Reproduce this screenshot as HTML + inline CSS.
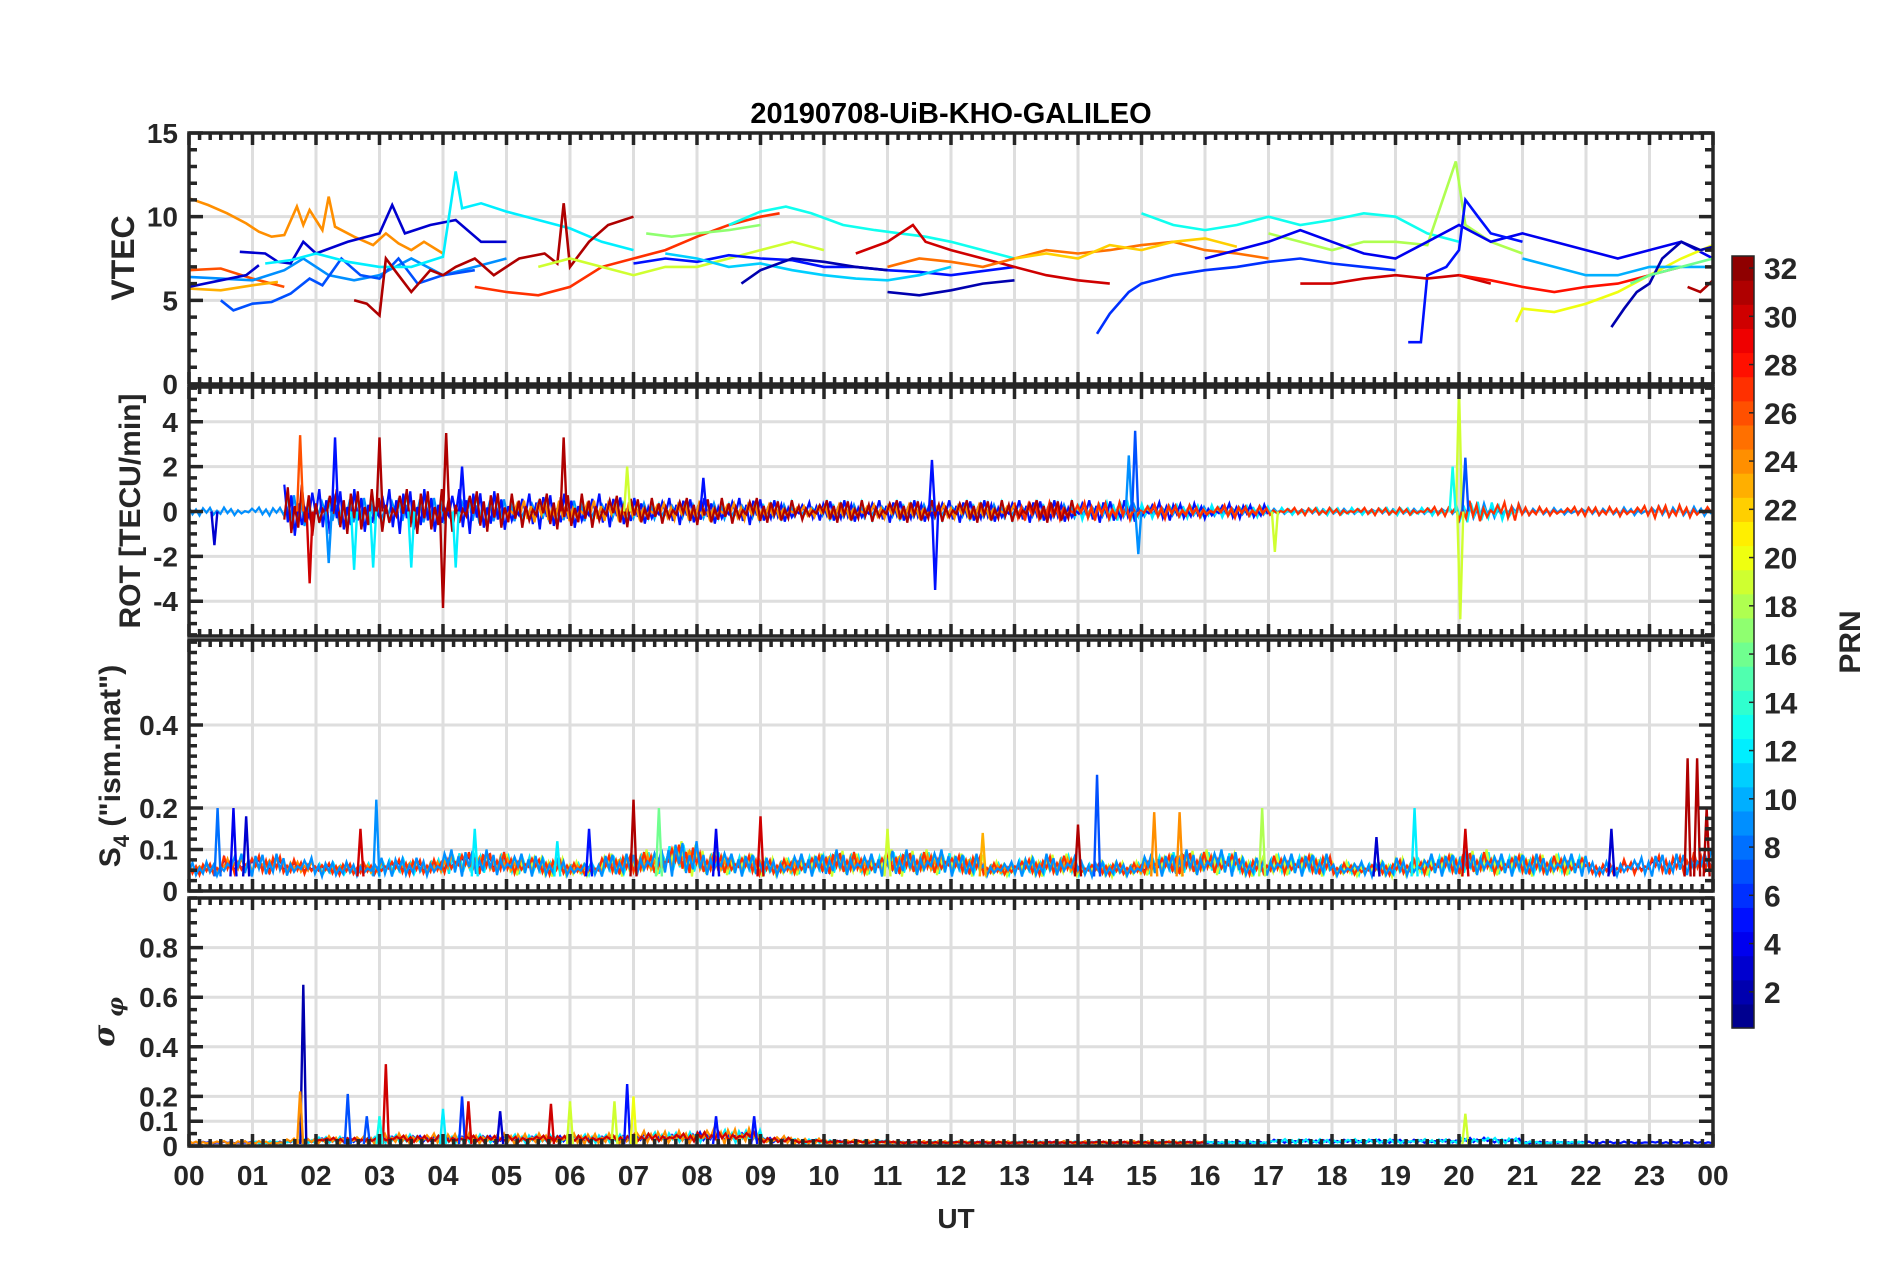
<!DOCTYPE html>
<html><head><meta charset="utf-8"><style>
html,body{margin:0;padding:0;background:#fff;}
svg{display:block;}
text{font-family:"Liberation Sans",Arial,sans-serif;font-weight:bold;fill:#262626;}
</style></head>
<body>
<svg id="fig" width="1902" height="1272" viewBox="0 0 1902 1272" xmlns="http://www.w3.org/2000/svg">
<rect width="1902" height="1272" fill="#fff"/>
<text x="951" y="123" font-size="29" text-anchor="middle" style="fill:#000">20190708-UiB-KHO-GALILEO</text>
<g id="grids"></g><g id="data"></g><g id="axes"></g>
<text x="956" y="1228" font-size="28" text-anchor="middle">UT</text>
<text transform="translate(134,258) rotate(-90)" font-size="32" text-anchor="middle">VTEC</text>
<text transform="translate(140,511) rotate(-90)" font-size="30" text-anchor="middle">ROT [TECU/min]</text>
<text transform="translate(120,766) rotate(-90)" font-size="30" text-anchor="middle">S<tspan font-size="22" dy="9">4</tspan><tspan dy="-9"> ("ism.mat")</tspan></text>
<text transform="translate(114,1022) rotate(-90)" font-size="30" text-anchor="middle" font-style="italic" font-weight="normal" style="font-family:'DejaVu Serif',serif">σ<tspan font-size="22" dy="9"> φ</tspan></text>
<g id="cbar"></g>
<text transform="translate(1860,642) rotate(-90)" font-size="30" text-anchor="middle">PRN</text>
</svg>
<script>
// ---------------- data ----------------
const hourLabels = ["00","01","02","03","04","05","06","07","08","09","10","11","12","13","14","15","16","17","18","19","20","21","22","23","00"];
const vtecTicks = [0,5,10,15];
const rotTicks = [-4,-2,0,2,4];
const s4Ticks = [0,0.1,0.2,0.4];
const sigTicks = [0,0.1,0.2,0.4,0.6,0.8];
const cbarTicks = [2,4,6,8,10,12,14,16,18,20,22,24,26,28,30,32];

const vtecPrns = [24,26,23,9,7,3,3,12,31,27,19,17,13,5,11,2,2,30,25,22,6,13,18,4,5,30,28,20,10,2,16,31];
const vtecSeries = [
 [[0,11.1],[0.3,10.7],[0.6,10.2],[0.9,9.6],[1.1,9.1],[1.3,8.8],[1.5,8.9],[1.7,10.6],[1.8,9.5],[1.9,10.4],[2.1,9.2],[2.2,11.2],[2.3,9.4],[2.6,8.8],[2.9,8.3],[3.1,9],[3.3,8.4],[3.5,8],[3.7,8.5],[4,7.8]],
 [[0,6.8],[0.5,6.9],[1.0,6.3],[1.5,5.8]],
 [[0,5.7],[0.5,5.6],[1,5.9],[1.4,6.1]],
 [[0,6.4],[0.5,6.3],[1,6.2],[1.5,6.8],[1.8,7.5],[2.2,6.5],[2.6,6.2],[3,6.5],[3.5,7.5],[4,6.5],[4.5,7],[5,7.5]],
 [[0.5,5],[0.7,4.4],[1,4.8],[1.3,4.9],[1.6,5.4],[1.9,6.3],[2.1,5.9],[2.4,7.5],[2.7,6.5],[3,6.3],[3.3,7.5],[3.6,6],[4,6.5],[4.5,6.8]],
 [[0,5.8],[0.5,6.2],[0.9,6.5],[1.1,7.1]],
 [[0.8,7.9],[1.2,7.8],[1.4,7.3],[1.6,7.2],[1.8,8.5],[2,7.8],[2.5,8.5],[3,9],[3.2,10.7],[3.4,9],[3.8,9.5],[4.2,9.8],[4.6,8.5],[5,8.5]],
 [[1.2,7.2],[1.6,7.4],[2,7.8],[2.5,7.3],[3,7],[3.5,7],[4,7.6],[4.2,12.7],[4.3,10.5],[4.6,10.8],[5,10.3],[5.5,9.8],[6,9.3],[6.5,8.5],[7,8]],
 [[2.6,5],[2.8,4.8],[3.0,4.1],[3.1,7.5],[3.3,6.5],[3.5,5.5],[3.8,6.8],[4.0,6.5],[4.2,7],[4.5,7.5],[4.8,6.5],[5.2,7.5],[5.6,7.8],[5.8,7.2],[5.9,10.8],[6,7],[6.3,8.5],[6.6,9.5],[7,10]],
 [[4.5,5.8],[5,5.5],[5.5,5.3],[6,5.8],[6.5,7],[7,7.5],[7.5,8],[8,8.8],[8.5,9.5],[9,10],[9.3,10.2]],
 [[5.5,7],[6,7.5],[6.5,7],[7,6.5],[7.5,7],[8,7],[8.5,7.5],[9,8],[9.5,8.5],[10,8]],
 [[7.2,9],[7.6,8.8],[8,9],[8.5,9.2],[9,9.5]],
 [[8.5,9.5],[9,10.3],[9.4,10.6],[9.8,10.2],[10.3,9.5],[10.8,9.2],[11.2,9],[11.6,8.8],[12,8.5],[12.5,8],[13,7.5]],
 [[7,7.2],[7.5,7.5],[8,7.3],[8.5,7.7],[9,7.5],[9.5,7.4],[10,7],[10.5,7],[11,6.8],[11.5,6.7],[12,6.5],[13,7]],
 [[7.5,7.8],[8,7.5],[8.5,7],[9,7.2],[9.5,6.8],[10,6.5],[10.5,6.3],[11,6.2],[11.5,6.5],[12,7]],
 [[8.7,6],[9,6.8],[9.5,7.5],[10,7.3],[10.5,7],[11,6.8]],
 [[11,5.5],[11.5,5.3],[12,5.6],[12.5,6],[13,6.2]],
 [[10.5,7.8],[11,8.5],[11.4,9.5],[11.6,8.5],[12,8],[12.5,7.5],[13,7],[13.5,6.5],[14,6.2],[14.5,6]],
 [[11,7],[11.5,7.5],[12,7.3],[12.5,7],[13,7.5],[13.5,8],[14,7.8],[14.5,8],[15,8.3],[15.5,8.5],[16,8],[16.5,7.8],[17,7.5]],
 [[13,7.5],[13.5,7.8],[14,7.5],[14.5,8.3],[15,8],[15.5,8.5],[16,8.7],[16.5,8.2]],
 [[14.3,3],[14.5,4.2],[14.8,5.5],[15,6],[15.5,6.5],[16,6.8],[16.5,7],[17,7.3],[17.5,7.5],[18,7.2],[18.5,7],[19,6.8]],
 [[15,10.2],[15.5,9.5],[16,9.2],[16.5,9.5],[17,10],[17.5,9.5],[18,9.8],[18.5,10.2],[19,10],[19.5,9],[20,8.5]],
 [[17,9],[17.5,8.5],[18,8],[18.5,8.5],[19,8.5],[19.5,8.3],[19.95,13.3],[20.1,9.5],[20.5,8.5],[21,7.8]],
 [[16,7.5],[16.5,8],[17,8.5],[17.5,9.2],[18,8.5],[18.5,7.8],[19,7.5],[19.5,8.5],[20,9.5],[20.5,8.5],[21,9],[21.5,8.5],[22,8],[22.5,7.5],[23,8],[23.5,8.5],[24,7.5]],
 [[19.2,2.5],[19.4,2.5],[19.5,6.5],[19.8,7],[20,8],[20.1,11],[20.3,10],[20.5,9],[21,8.5]],
 [[17.5,6],[18,6],[18.5,6.3],[19,6.5],[19.5,6.3],[20,6.5],[20.5,6]],
 [[20,6.5],[20.5,6.2],[21,5.8],[21.5,5.5],[22,5.8],[22.5,6],[23,6.5],[23.5,7]],
 [[20.9,3.7],[21,4.5],[21.5,4.3],[22,4.8],[22.5,5.5],[23,6.5],[23.5,7.5],[24,8.3]],
 [[21,7.5],[21.5,7],[22,6.5],[22.5,6.5],[23,7],[23.5,7],[24,7]],
 [[22.4,3.4],[22.6,4.5],[22.8,5.5],[23,6],[23.2,7.5],[23.5,8.5],[23.8,8],[24,8.2]],
 [[22.7,6],[23,6.5],[23.5,7],[24,7.5]],
 [[23.6,5.8],[23.8,5.5],[24,6.2]]
];

const rotEnvelope = [0.3,0.3,0.3,1.2,1.0,1.0,1.0,1.0,1.0,0.9,0.8,0.8,0.8,0.7,0.6,0.6,0.6,0.6,0.5,0.4,0.5,0.5,0.5,0.5,0.5,0.5,0.5,0.5,0.5,0.5,0.4,0.35,0.35,0.3,0.2,0.2,0.2,0.2,0.2,0.25,0.6,0.5,0.25,0.25,0.25,0.3,0.35,0.35];
const rotPrns = [9,12,5,24,27,31];
const rotWindows = [[0,24],[1.5,21],[1.5,17],[5,17],[13,24],[1.5,14]];
const rotSpikes = [[1.75,3.4,26],[1.9,-3.2,30],[2.3,3.3,5],[2.6,-2.6,12],[2.9,-2.5,12],[3.0,3.3,31],[3.5,-2.5,12],[4.0,-4.3,31],[4.05,3.5,31],[4.3,2,5],[5.9,3.3,31],[6.9,2,19],[11.7,2.3,5],[11.75,-3.5,5],[14.8,2.5,9],[14.9,3.6,7],[14.95,-1.9,9],[17.1,-1.8,19],[20.0,5.5,19],[20.02,-4.8,19],[19.9,2,13],[20.1,2.4,7],[4.2,-2.5,12],[2.2,-2.3,9],[8.1,1.5,5],[0.4,-1.5,3]];

const s4Envelope = [0.07,0.09,0.09,0.08,0.07,0.07,0.08,0.08,0.1,0.1,0.09,0.08,0.07,0.09,0.1,0.12,0.1,0.09,0.08,0.09,0.1,0.09,0.1,0.1,0.09,0.07,0.08,0.09,0.07,0.07,0.09,0.1,0.1,0.08,0.09,0.09,0.07,0.07,0.08,0.09,0.1,0.09,0.09,0.09,0.07,0.08,0.09,0.1];
const s4Prns = [3,12,19,24,27,9];
const s4Windows = [[0,24],[2,22],[5,22],[0,16],[0,24],[0,24]];
const s4Spikes = [[0.45,0.2,8],[0.7,0.2,4],[0.9,0.18,3],[2.7,0.15,30],[2.95,0.22,9],[4.5,0.15,12],[5.8,0.12,12],[6.3,0.15,5],[7.0,0.22,31],[7.4,0.2,16],[8.3,0.15,4],[9.0,0.18,30],[14.3,0.28,7],[14.0,0.16,31],[15.2,0.19,24],[15.6,0.19,24],[16.9,0.2,18],[18.7,0.13,3],[19.3,0.2,12],[20.1,0.15,30],[22.4,0.15,3],[23.6,0.32,31],[23.75,0.32,31],[23.9,0.2,31],[12.5,0.14,23],[11.0,0.15,19]];

const sigEnvelope = [0.02,0.02,0.02,0.03,0.04,0.04,0.05,0.05,0.05,0.05,0.05,0.05,0.05,0.05,0.06,0.06,0.07,0.07,0.04,0.03,0.025,0.025,0.02,0.02,0.02,0.02,0.02,0.02,0.02,0.02,0.02,0.02,0.02,0.02,0.03,0.03,0.03,0.03,0.03,0.03,0.04,0.035,0.02,0.02,0.02,0.02,0.02,0.02];
const sigPrns = [5,12,24,30];
const sigWindows = [[0,24],[1,22],[0,16],[2,16]];
const sigSpikes = [[1.8,0.65,2],[1.75,0.22,24],[2.5,0.21,7],[3.1,0.33,30],[2.8,0.12,7],[4.3,0.2,6],[4.4,0.18,30],[4.9,0.14,3],[5.7,0.17,30],[6.0,0.18,19],[6.7,0.18,19],[6.9,0.25,5],[7.0,0.2,20],[8.3,0.12,5],[8.9,0.12,5],[20.1,0.13,19],[4.0,0.15,12],[3.0,0.12,13]];

// ---------------- rendering ----------------
const NS="http://www.w3.org/2000/svg";
const X0=189, X1=1713;
const xs = h => X0 + (h/24)*(X1-X0);
const panels = [
 {name:"vtec", top:133, bot:384, min:0, max:15, ticks:vtecTicks, minor:1},
 {name:"rot", top:387, bot:636, min:-5.55, max:5.55, ticks:rotTicks, minor:0.5},
 {name:"s4", top:640, bot:891, min:0, max:0.605, ticks:s4Ticks, minor:0.025},
 {name:"sigma", top:898, bot:1146, min:0, max:1.0, ticks:sigTicks, minor:0.05}
];
function ys(p,v){return p.bot-(v-p.min)/(p.max-p.min)*(p.bot-p.top);}
function jet(i,n){
  const t=(i-0.5)/n; const f=x=>Math.max(0,Math.min(1,x));
  const r=f(1.5-Math.abs(4*t-3)), g=f(1.5-Math.abs(4*t-2)), b=f(1.5-Math.abs(4*t-1));
  return `rgb(${Math.round(r*255)},${Math.round(g*255)},${Math.round(b*255)})`;
}
function mk(tag,attrs,parent){const e=document.createElementNS(NS,tag);for(const k in attrs)e.setAttribute(k,attrs[k]);parent.appendChild(e);return e;}
const G=document.getElementById('grids'),D=document.getElementById('data'),A=document.getElementById('axes'),CB=document.getElementById('cbar');
const pattern=[1,-0.7,0.5,-1,0.8,-0.3,0.9,-0.8,0.2,-0.6,1,-0.4,0.6,-0.9,0.3,-0.5,0.1,-0.2,0.7,-0.1];

panels.forEach((p,pi)=>{
  for(let h=1;h<24;h++){
    const l=mk('line',{x1:xs(h),x2:xs(h),y1:p.top,y2:p.bot,stroke:'#dedede','stroke-width':3},G);
    
    
  }
  p.ticks.forEach(v=>{
    if(v===p.min) return;
    const l=mk('line',{x1:X0,x2:X1,y1:ys(p,v),y2:ys(p,v),stroke:'#dedede','stroke-width':3},G);
    
    
  });
  const fr=mk('rect',{x:X0,y:p.top,width:X1-X0,height:p.bot-p.top,fill:'none',stroke:'#262626','stroke-width':3.5},A);
  
  
  let tk='';
  for(let m=0;m<=144;m++){
    const x=xs(m/6), L=(m%6===0)?12:7;
    tk+=`M${x},${p.top}v${L}M${x},${p.bot}v${-L}`;
  }
  const nMin=Math.round((p.max-p.min)/p.minor)+2;
  const start=Math.ceil(p.min/p.minor);
  for(let k=start;k<start+nMin;k++){
    const v=k*p.minor; if(v>p.max) break;
    const y=ys(p,v); const isMaj=p.ticks.some(t=>Math.abs(t-v)<1e-9);
    const L=isMaj?14:8;
    tk+=`M${X0},${y}h${L}M${X1},${y}h${-L}`;
  }
  const tp=mk('path',{d:tk,stroke:'#262626','stroke-width':3.5,fill:'none'},A);
  
  
  p.ticks.forEach(v=>{
    const t=mk('text',{x:178,y:ys(p,v)+10,'font-size':28,'text-anchor':'end'},A);
    t.textContent=String(v);
    
    
  });
});
hourLabels.forEach((s,i)=>{
  const t=mk('text',{x:xs(i),y:1185,'font-size':28,'text-anchor':'middle'},A);
  t.textContent=s;
  
  
});

panels.forEach((p,pi)=>{
  const cp=mk('clipPath',{id:'clip'+pi},D);
  mk('rect',{x:X0,y:p.top,width:X1-X0,height:p.bot-p.top},cp);
});

const pV=panels[0];
vtecSeries.forEach((s,i)=>{
  const d=s.map((q,j)=>(j?'L':'M')+xs(q[0]).toFixed(1)+','+ys(pV,q[1]).toFixed(1)).join('');
  const e=mk('path',{d:d,fill:'none',stroke:jet(vtecPrns[i],32),'stroke-width':2.6,'clip-path':'url(#clip0)'},D);
  
  
});

function bandPanel(p,pi,env,prns,wins,spikes,base,sym){
  prns.forEach((prn,k)=>{
    const w=wins[k]; let d=''; let j=k*5;
    for(let x=xs(w[0]);x<=xs(w[1]);x+=3.5){
      const h=(x-X0)/(X1-X0)*24; const a=env[Math.min(47,Math.floor(h*2))];
      const f=pattern[(j++)%pattern.length]*(0.6+0.4*((k%3)/2));
      const v=sym? a*f : base+(a-base)*(0.5+0.5*f);
      d+=(d?'L':'M')+x.toFixed(1)+','+ys(p,v).toFixed(1);
    }
    const e=mk('path',{d:d,fill:'none',stroke:jet(prn,32),'stroke-width':2.2,'clip-path':'url(#clip'+pi+')'},D);
    
    
  });
  spikes.forEach(s=>{
    const x=xs(s[0]), y0=ys(p,sym?0:base);
    const d=`M${x-3},${y0}L${x},${ys(p,s[1])}L${x+3},${y0}`;
    const e=mk('path',{d:d,fill:'none',stroke:jet(s[2],32),'stroke-width':2.4,'clip-path':'url(#clip'+pi+')'},D);
    
    
  });
}
bandPanel(panels[1],1,rotEnvelope,rotPrns,rotWindows,rotSpikes,0,true);
bandPanel(panels[2],2,s4Envelope,s4Prns,s4Windows,s4Spikes,0.035,false);
bandPanel(panels[3],3,sigEnvelope,sigPrns,sigWindows,sigSpikes,0.008,false);

const CT=256, CBot=1028, CL=1732, CW=22;
for(let i=1;i<=32;i++){
  const y1=CBot-(i)/32*(CBot-CT), y0=CBot-(i-1)/32*(CBot-CT);
  const r=mk('rect',{x:CL,y:y1,width:CW,height:y0-y1+0.6,fill:jet(i,32)},CB);
  
  
}
const cbf=mk('rect',{x:CL,y:CT,width:CW,height:CBot-CT,fill:'none',stroke:'#262626','stroke-width':1.5},CB);


cbarTicks.forEach(v=>{
  const y=CT+(32-v)/32*(CBot-CT)+ (CBot-CT)/64;
  mk('line',{x1:CL+CW-5,x2:CL+CW,y1:y,y2:y,stroke:'#262626','stroke-width':1.5},CB);
  const t=mk('text',{x:1764,y:y+11,'font-size':30},CB);
  t.textContent=String(v);
  
  
});
</script>
</body></html>
